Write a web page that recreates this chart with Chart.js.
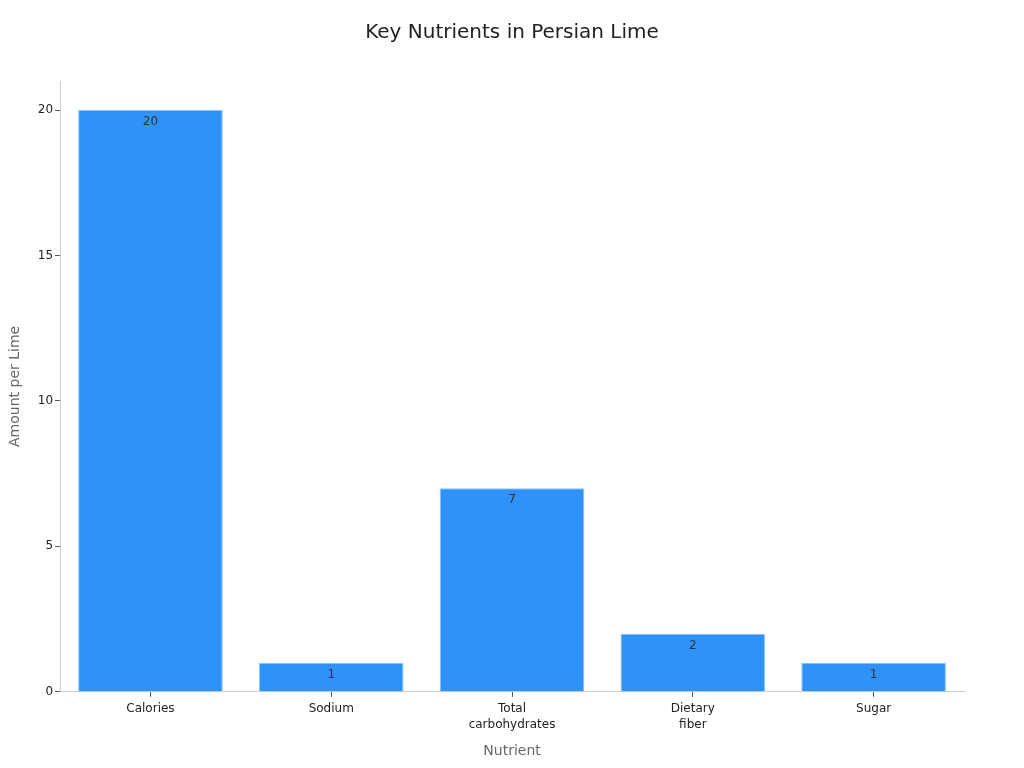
<!DOCTYPE html>
<html>
<head>
<meta charset="utf-8">
<script src="https://cdn.jsdelivr.net/npm/chart.js@4"></script>
<style>
  html, body { margin: 0; padding: 0; background: #fff; }
  #wrap { width: 1024px; height: 768px; }
</style>
</head>
<body>
<div id="wrap"><canvas id="chart"></canvas></div>
<script>
const chartTitle = 'Key Nutrients in Persian Lime';
const nutrients = [['Calories'], ['Sodium'], ['Total', 'carbohydrates'], ['Dietary', 'fiber'], ['Sugar']];
const amounts = [20, 1, 7, 2, 1];
const yTicks = [0, 5, 10, 15, 20];

// draws the value just inside the top of every bar
const barValues = {
  id: 'barValues',
  afterDatasetsDraw(chart) {
    const ctx = chart.ctx;
    const meta = chart.getDatasetMeta(0);
    ctx.save();
    ctx.font = '12px "DejaVu Sans"';
    ctx.fillStyle = '#333';
    ctx.textAlign = 'center';
    ctx.textBaseline = 'top';
    meta.data.forEach((bar, i) => {
      ctx.fillText(String(amounts[i]), bar.x, bar.y + 6);
    });
    ctx.restore();
  }
};

// title centred on the whole canvas, not just the padded layout box
const centerTitle = {
  id: 'centerTitle',
  afterDraw(chart) {
    const ctx = chart.ctx;
    ctx.save();
    ctx.font = '20px "DejaVu Sans"';
    ctx.fillStyle = '#222';
    ctx.textAlign = 'center';
    ctx.textBaseline = 'middle';
    ctx.fillText(chartTitle, chart.width / 2, 33);
    ctx.restore();
  }
};

Chart.defaults.font.family = '"DejaVu Sans", sans-serif';

new Chart(document.getElementById('chart'), {
  type: 'bar',
  data: {
    labels: nutrients,
    datasets: [{
      data: amounts,
      backgroundColor: '#2f92f8',
      borderColor: '#8cc4fb',
      borderWidth: 1,
      barPercentage: 0.8,
      categoryPercentage: 1
    }]
  },
  options: {
    responsive: true,
    maintainAspectRatio: false,
    animation: false,
    layout: { padding: { left: 3, right: 60, top: 81, bottom: 4 } },
    plugins: {
      legend: { display: false },
      tooltip: { enabled: false },
      title: { display: false }
    },
    scales: {
      x: {
        grid: { drawOnChartArea: false, offset: false, tickLength: 5, tickColor: '#555' },
        border: { color: '#ccc' },
        ticks: { color: '#222', font: { size: 12, lineHeight: 1.35 }, padding: 4 },
        title: { display: true, text: 'Nutrient', color: '#666', font: { size: 14 }, padding: { top: 6 } }
      },
      y: {
        min: 0,
        max: 21,
        afterBuildTicks(axis) { axis.ticks = yTicks.map(v => ({ value: v })); },
        grid: { drawOnChartArea: false, tickLength: 5, tickColor: '#555' },
        border: { color: '#ccc' },
        ticks: { color: '#222', font: { size: 12 }, padding: 2 },
        title: { display: true, text: 'Amount per Lime', color: '#666', font: { size: 14 }, padding: { bottom: 12 } }
      }
    }
  },
  plugins: [barValues, centerTitle]
});
</script>
</body>
</html>
